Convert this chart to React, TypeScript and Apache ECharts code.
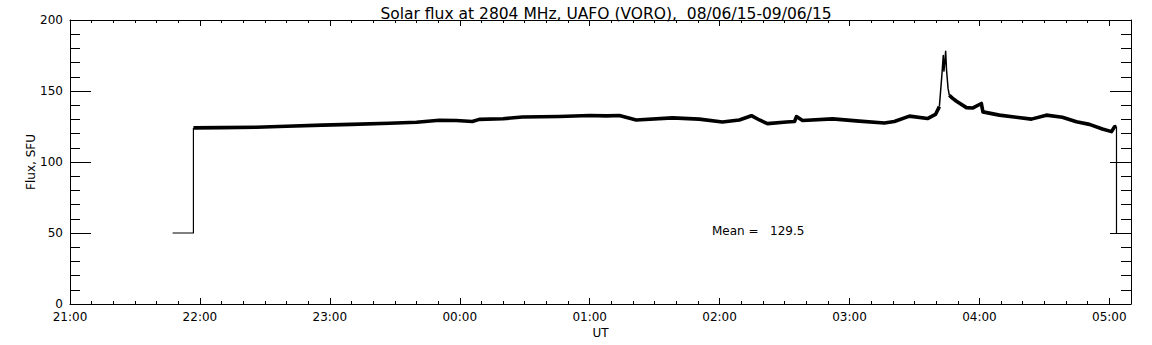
import React, { useEffect, useRef } from "react";
import * as echarts from "echarts";

// Time axis in minutes after 21:00 UT
const hourLabels = ["21:00", "22:00", "23:00", "00:00", "01:00", "02:00", "03:00", "04:00", "05:00"];
const xMin = 0;
const xMax = 490;
const yMin = 0;
const yMax = 200;

// Fill level (no data) before start and after end
const fillLeftT = [47.4, 57.0, 57.0];
const fillLeftF = [50, 50, 124];
const fillRightT = [483.3, 483.3];
const fillRightF = [125, 50];

// Pre-flare flux (SFU)
const preT = [57.0, 70, 86, 100, 116.5, 130, 147.5, 160, 170.6, 178.4, 185.8, 189.0, 200, 208.9, 226, 239.9, 247.7, 253.7, 261.5, 278.2, 290.6, 301.3, 309.1, 314.7, 318.4, 322.1, 330.9, 334.6, 335.5, 338.3, 352.2, 364.5, 376.1, 380.7, 387.7, 396.0, 399.7, 401.5];
const preF = [124.0, 124.2, 124.5, 125.2, 126.0, 126.5, 127.3, 128.0, 129.4, 129.2, 128.5, 130.0, 130.5, 131.7, 132.0, 132.7, 132.5, 132.7, 129.6, 131.1, 130.2, 128.2, 129.6, 132.6, 129.6, 127.0, 128.2, 128.5, 132.0, 129.2, 130.4, 128.8, 127.5, 128.5, 132.3, 130.6, 133.5, 139.0];

// Flare spike
const spikeT = [401.5, 402.6, 403.3, 403.6, 404.0, 404.4, 404.8, 405.5, 406.1];
const spikeF = [139, 160, 175, 164, 170, 178, 165, 152, 147];

// Post-flare flux
const postT = [406.1, 407.5, 409.4, 414.0, 416.8, 420.9, 421.6, 429.2, 437.0, 444.0, 450.9, 458.3, 464.8, 470.8, 476.8, 481.0, 482.4, 483.3];
const postF = [147.0, 145.0, 142.8, 138.3, 138.0, 141.2, 135.3, 133.0, 131.5, 130.2, 133.0, 131.5, 128.4, 126.5, 123.2, 121.4, 124.8, 125.0];

const meanFlux = 129.5;
const titleText = "Solar flux at 2804 MHz, UAFO (VORO),  08/06/15-09/06/15";

const zip = (t: number[], f: number[]) => t.map((v, i) => [v, f[i]]);

const FONT = "DejaVu Sans";
const BLACK = "#000";

export default function App() {
  const ref = useRef<HTMLDivElement>(null);
  useEffect(() => {
    if (!ref.current) return;
    const chart = echarts.init(ref.current, undefined, { renderer: "svg" });
    const gridBox = { left: 70, right: 21, top: 20, bottom: 41, containLabel: false };
    const xCommon = (gridIndex: number, position: string, interval: number, len: number, labels: boolean, line: boolean) => ({
      type: "value",
      gridIndex,
      position,
      min: xMin,
      max: xMax,
      interval,
      axisLine: { show: line, onZero: false, lineStyle: { color: BLACK, width: 1 } },
      axisTick: { show: true, inside: true, length: len, lineStyle: { color: BLACK, width: 1 } },
      axisLabel: labels
        ? {
            show: true,
            margin: 7,
            color: BLACK,
            fontSize: 12,
            fontFamily: FONT,
            showMaxLabel: false,
            formatter: (v: number) => (v % 60 === 0 ? hourLabels[v / 60] ?? "" : ""),
          }
        : { show: false },
      splitLine: { show: false },
    });
    const yCommon = (position: string, labels: boolean) => ({
      type: "value",
      gridIndex: 0,
      position,
      min: yMin,
      max: yMax,
      interval: 50,
      axisLine: { show: true, onZero: false, lineStyle: { color: BLACK, width: 1 } },
      axisTick: { show: true, inside: true, length: 21, lineStyle: { color: BLACK, width: 1 } },
      minorTick: { show: true, splitNumber: 5, length: 10, lineStyle: { color: BLACK, width: 1 } },
      axisLabel: labels ? { show: true, margin: 7, color: BLACK, fontSize: 12, fontFamily: FONT } : { show: false },
      splitLine: { show: false },
      minorSplitLine: { show: false },
    });
    const xb: any = xCommon(0, "bottom", 10, 3, true, true);
    xb.name = "UT";
    xb.nameLocation = "middle";
    xb.nameGap = 23;
    xb.nameMoveOverlap = false;
    xb.nameTextStyle = { color: BLACK, fontSize: 12, fontFamily: FONT };
    const yl: any = yCommon("left", true);
    yl.name = "Flux, SFU";
    yl.nameLocation = "middle";
    yl.nameRotate = 90;
    yl.nameGap = 33;
    yl.nameMoveOverlap = false;
    yl.nameTextStyle = { color: BLACK, fontSize: 12, fontFamily: FONT };

    const lineSeries = (name: string, t: number[], f: number[], width: number) => ({
      type: "line",
      name,
      xAxisIndex: 0,
      yAxisIndex: 0,
      data: zip(t, f),
      symbol: "none",
      showSymbol: false,
      lineStyle: { color: BLACK, width, join: "round", cap: "butt" },
      itemStyle: { color: BLACK },
      silent: true,
    });

    chart.setOption({
      animation: false,
      backgroundColor: "#fff",
      textStyle: { fontFamily: FONT },
      title: {
        text: titleText,
        left: 601,
        top: 1,
        textAlign: "center",
        textStyle: { color: BLACK, fontSize: 15.5, fontWeight: "normal", fontFamily: FONT },
      },
      grid: [gridBox, gridBox],
      xAxis: [
        xb,
        xCommon(0, "top", 10, 3, false, true),
        xCommon(1, "bottom", 60, 6, false, false),
        xCommon(1, "top", 60, 6, false, false),
      ],
      yAxis: [
        yl,
        yCommon("right", false),
        { type: "value", gridIndex: 1, min: yMin, max: yMax, show: false },
      ],
      graphic: [
        {
          type: "text",
          x: 712,
          y: 231,
          style: {
            text: "Mean =   " + meanFlux.toFixed(1),
            fill: BLACK,
            fontSize: 12,
            fontFamily: FONT,
            verticalAlign: "middle",
            align: "left",
          },
        },
      ],
      series: [
        lineSeries("fillLeft", fillLeftT, fillLeftF, 1.2),
        lineSeries("pre", preT, preF, 3.6),
        lineSeries("spike", spikeT, spikeF, 1.5),
        lineSeries("post", postT, postF, 3.6),
        lineSeries("fillRight", fillRightT, fillRightF, 1.2),
      ],
    });
    return () => chart.dispose();
  }, []);
  return (
    <div
      ref={ref}
      style={{ position: "absolute", left: 0, top: 0, width: 1152, height: 345, background: "#fff" }}
    />
  );
}
